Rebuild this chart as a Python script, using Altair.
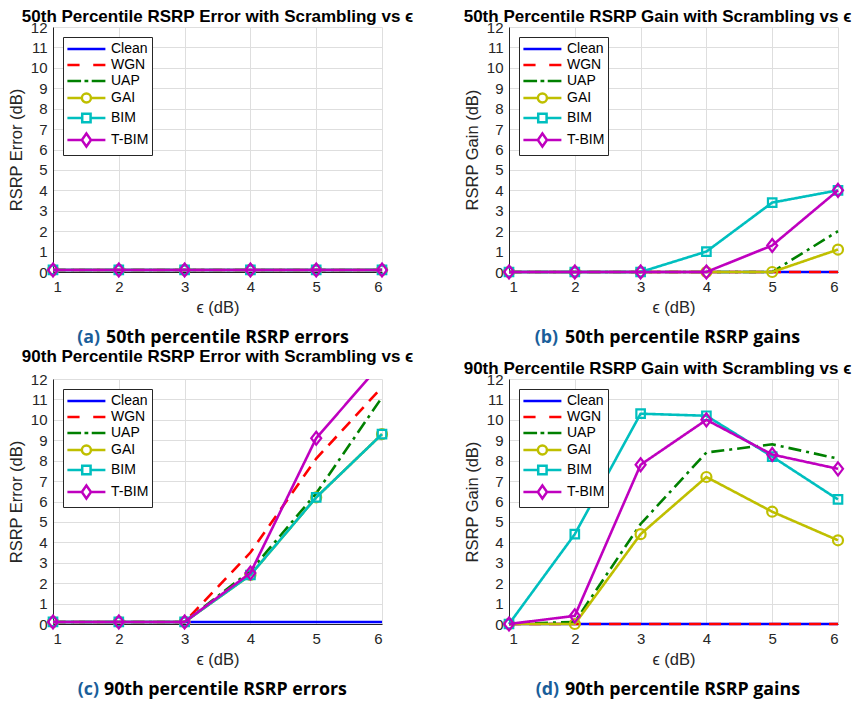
import altair as alt
import pandas as pd

# ---------------- data ----------------
eps = [1, 2, 3, 4, 5, 6]
series = ["Clean", "WGN", "UAP", "GAI", "BIM", "T-BIM"]

err50 = {
    "Clean": [0.1, 0.1, 0.1, 0.1, 0.1, 0.1],
    "WGN":   [0.1, 0.1, 0.1, 0.1, 0.1, 0.1],
    "UAP":   [0.1, 0.1, 0.1, 0.1, 0.1, 0.1],
    "GAI":   [0.1, 0.1, 0.1, 0.1, 0.1, 0.1],
    "BIM":   [0.1, 0.1, 0.1, 0.1, 0.1, 0.1],
    "T-BIM": [0.1, 0.1, 0.1, 0.1, 0.1, 0.1],
}
gain50 = {
    "Clean": [0, 0, 0, 0, 0, 0],
    "WGN":   [0, 0, 0, 0, 0, 0],
    "UAP":   [0, 0, 0, 0, 0, 2.0],
    "GAI":   [0, 0, 0, 0, 0, 1.1],
    "BIM":   [0, 0, 0, 1.0, 3.4, 4.0],
    "T-BIM": [0, 0, 0, 0, 1.3, 4.0],
}
err90 = {
    "Clean": [0.1, 0.1, 0.1, 0.1, 0.1, 0.1],
    "WGN":   [0.1, 0.1, 0.1, 3.5, 8.1, 11.6],
    "UAP":   [0.1, 0.1, 0.1, 2.6, 6.4, 11.1],
    "GAI":   [0.1, 0.1, 0.1, 2.4, 6.2, 9.3],
    "BIM":   [0.1, 0.1, 0.1, 2.4, 6.2, 9.3],
    "T-BIM": [0.1, 0.1, 0.1, 2.5, 9.1, 12.8],
}
gain90 = {
    "Clean": [0, 0, 0, 0, 0, 0],
    "WGN":   [0, 0, 0, 0, 0, 0],
    "UAP":   [0, 0.1, 4.9, 8.4, 8.8, 8.1],
    "GAI":   [0, 0, 4.4, 7.2, 5.5, 4.1],
    "BIM":   [0, 4.4, 10.3, 10.2, 8.2, 6.1],
    "T-BIM": [0, 0.4, 7.8, 10.0, 8.3, 7.6],
}

titles = [
    "50th Percentile RSRP Error with Scrambling vs \u03f5",
    "50th Percentile RSRP Gain with Scrambling vs \u03f5",
    "90th Percentile RSRP Error with Scrambling vs \u03f5",
    "90th Percentile RSRP Gain with Scrambling vs \u03f5",
]
ylabels = ["RSRP Error (dB)", "RSRP Gain (dB)", "RSRP Error (dB)", "RSRP Gain (dB)"]
cap_letters = ["(a)", "(b)", "(c)", "(d)"]
cap_texts = ["50th percentile RSRP errors", "50th percentile RSRP gains",
             "90th percentile RSRP errors", "90th percentile RSRP gains"]
xticks = [1, 2, 3, 4, 5, 6]
yticks = [0, 1, 2, 3, 4, 5, 6, 7, 8, 9, 10, 11, 12]

# ---------------- styles ----------------
colors = {"Clean": "#0000ff", "WGN": "#ff0000", "UAP": "#008000",
          "GAI": "#bfbf00", "BIM": "#00bfbf", "T-BIM": "#bf00bf"}
dashes = {"Clean": [1, 0], "WGN": [12, 8], "UAP": [13, 5, 3, 5],
          "GAI": [1, 0], "BIM": [1, 0], "T-BIM": [1, 0]}
markers = {"GAI": "circle", "BIM": "square",
           "T-BIM": "M0,-1.3L1,0L0,1.3L-1,0Z"}
marker_size = {"GAI": 100, "BIM": 72, "T-BIM": 100}
legend_paths = [
    "M-1,0L4,0",
    "M-1,0L0.6,0M2.4,0L4,0",
    "M-1,0L0.8,0M1.25,0L1.75,0M2.2,0L4,0",
    "M-1,0L0.9,0M2.1,0L4,0M2.1,0A0.6,0.6 0 1,1 0.9,0A0.6,0.6 0 1,1 2.1,0",
    "M-1,0L0.95,0M2.05,0L4,0M0.95,-0.55L2.05,-0.55L2.05,0.55L0.95,0.55Z",
    "M-1,0L0.9,0M2.1,0L4,0M1.5,-0.85L2.1,0L1.5,0.85L0.9,0Z",
]

FONT = "Liberation Sans"
W, H = 329, 245
YMAX = 12


def panel(vals, title, ylab, letter, text, letter_x, text_x, title_dx):
    xenc = alt.X("x:Q", scale=alt.Scale(domain=[1, 6], nice=False),
                 axis=alt.Axis(values=xticks, title="\u03f5 (dB)", format="d"))
    yenc = alt.Y("y:Q", scale=alt.Scale(domain=[0, YMAX], nice=False),
                 axis=alt.Axis(values=yticks, title=ylab, format="d"))
    layers = []
    frames = []
    for s in series:
        df = pd.DataFrame({"x": eps, "y": vals[s], "series": s})
        frames.append(df)
        clip = max(vals[s]) > YMAX
        line = alt.Chart(df).mark_line(
            color=colors[s], strokeWidth=2.6, strokeDash=dashes[s], clip=clip
        ).encode(x=xenc, y=yenc)
        layers.append(line)
        if s in markers:
            pts = alt.Chart(df).transform_filter(alt.datum.y <= YMAX).mark_point(
                shape=markers[s], size=marker_size[s], filled=False,
                color=colors[s], strokeWidth=2.2, opacity=1
            ).encode(x=xenc, y=yenc)
            layers.append(pts)
    alld = pd.concat(frames)
    leg = alt.Legend(title=None, orient="top-left", offset=10, padding=3,
                     strokeColor="#262626", fillColor="white",
                     labelFont=FONT, labelFontSize=14, labelColor="black",
                     symbolSize=231, symbolStrokeWidth=2.5, symbolOpacity=1,
                     labelOffset=27, rowPadding=0, labelLimit=200)
    legend_layer = alt.Chart(alld).mark_point(filled=False, opacity=0).encode(
        x=xenc, y=yenc,
        color=alt.Color("series:N", scale=alt.Scale(domain=series, range=[colors[s] for s in series]),
                        legend=leg, sort=series),
        shape=alt.Shape("series:N", scale=alt.Scale(domain=series, range=legend_paths),
                        legend=leg, sort=series),
    )
    layers.append(legend_layer)
    capA = alt.Chart(pd.DataFrame({"t": [letter]})).mark_text(
        font="Open Sans", fontSize=17.8, fontWeight="bold", color="#1a5e9a",
        align="right", baseline="middle"
    ).encode(x=alt.value(letter_x), y=alt.value(H + 66), text="t:N")
    capB = alt.Chart(pd.DataFrame({"t": [text]})).mark_text(
        font="Open Sans", fontSize=17.8, fontWeight="bold", color="black",
        align="left", baseline="middle"
    ).encode(x=alt.value(text_x), y=alt.value(H + 66), text="t:N")
    layers += [capA, capB]
    return alt.layer(*layers).properties(
        width=W, height=H,
        title=alt.TitleParams(text=title, font=FONT, fontSize=17, fontWeight="bold",
                              color="black", anchor="middle", frame="group", offset=-6,
                              dx=title_dx),
    )


panels = [
    panel(err50, titles[0], ylabels[0], cap_letters[0], cap_texts[0], 47, 53, 0),
    panel(gain50, titles[1], ylabels[1], cap_letters[1], cap_texts[1], 49, 56, -16),
    panel(err90, titles[2], ylabels[2], cap_letters[2], cap_texts[2], 46, 51, 0),
    panel(gain90, titles[3], ylabels[3], cap_letters[3], cap_texts[3], 50, 56, -16),
]

chart = alt.concat(*panels, columns=2, spacing={"row": 107, "column": 127},
                   bounds="flush").resolve_legend(
    color="independent", shape="independent"
).properties(
    padding={"left": 0, "top": 0, "right": 0, "bottom": 0}
).configure_view(stroke=None).configure_axis(
    labelFont=FONT, labelFontSize=15, labelColor="#262626",
    titleFont=FONT, titleFontSize=16.5, titleFontWeight="normal", titleColor="#262626",
    domainColor="#262626", domainWidth=1, ticks=False,
    gridColor="#dedede", gridWidth=1, labelPadding=5,
).configure_axisX(labelPadding=7, titlePadding=5).configure_axisY(titlePadding=6, labelPadding=6)

chart.save("out.html", embed_options={"renderer": "svg", "actions": False})
